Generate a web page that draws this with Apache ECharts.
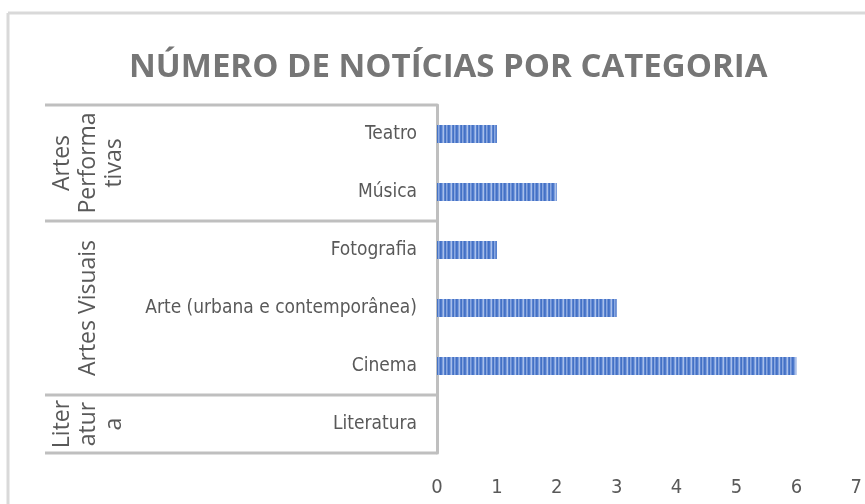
<!DOCTYPE html>
<html>
<head>
<meta charset="utf-8">
<script src="https://cdn.jsdelivr.net/npm/echarts@6/dist/echarts.min.js"></script>
<style>
  html, body { margin: 0; padding: 0; background: #fff; }
  #chart { width: 865px; height: 504px; }
</style>
</head>
<body>
<div id="chart"></div>
<script>
// dados
var categories = ['Teatro', 'Música', 'Fotografia', 'Arte (urbana e contemporânea)', 'Cinema', 'Literatura'];
var values = [1, 2, 1, 3, 6, 0];
var groupLabels = ['Artes\nPerforma\ntivas', 'Artes Visuais', 'Liter\natur\na'];
var groupSizes = [2, 3, 1];
var xTicks = [0, 1, 2, 3, 4, 5, 6, 7];

// padrão listrado das barras
function stripes() {
  var c = document.createElement('canvas');
  c.width = 8; c.height = 4;
  var ctx = c.getContext('2d');
  var cols = ['#4371c6', '#4f7acb', '#7e9fdd', '#a9c0ea', '#5a82d0', '#4472c4', '#8aa8e0', '#6b8fd6'];
  cols.forEach(function (col, i) {
    ctx.fillStyle = col;
    ctx.fillRect(i, 0, 1, 4);
  });
  return c;
}

var chart = echarts.init(document.getElementById('chart'));

var option = {
  animation: false,
  title: {
    text: 'NÚMERO DE NOTÍCIAS POR CATEGORIA',
    left: 124,
    top: 46,
    textStyle: {
      fontFamily: 'Open Sans',
      fontWeight: 'bold',
      fontSize: 33,
      color: '#767676'
    }
  },
  grid: {
    left: 437,
    right: 8,
    top: 105,
    bottom: 51,
    containLabel: false
  },
  xAxis: {
    type: 'value',
    min: xTicks[0],
    max: xTicks[xTicks.length - 1],
    interval: 1,
    axisLine: { show: false },
    axisTick: { show: false },
    splitLine: { show: false },
    axisLabel: {
      margin: 25,
      fontSize: 20,
      fontFamily: 'Liberation Sans Narrow, DejaVu Sans Condensed, sans-serif',
      color: '#595959'
    }
  },
  yAxis: {
    type: 'category',
    inverse: true,
    data: categories,
    axisLine: { show: true, lineStyle: { color: '#bfbfbf', width: 3 } },
    axisTick: { show: false },
    axisLabel: {
      margin: 20,
      fontSize: 19,
      fontFamily: 'Liberation Sans Narrow, DejaVu Sans Condensed, sans-serif',
      color: '#595959'
    }
  },
  series: [{
    type: 'bar',
    data: values,
    barWidth: 18,
    itemStyle: { color: { image: stripes(), repeat: 'repeat' } }
  }]
};

chart.setOption(option);

// linhas de grupo e rótulos rodados
var yA = chart.convertToPixel({ yAxisIndex: 0 }, categories[0]);
var yB = chart.convertToPixel({ yAxisIndex: 0 }, categories[1]);
var band = yB - yA;
var axisX = chart.convertToPixel({ xAxisIndex: 0 }, 0);

var elements = [
  { type: 'line', shape: { x1: 8, y1: 13, x2: 865, y2: 13 }, style: { stroke: '#d9d9d9', lineWidth: 3 } },
  { type: 'line', shape: { x1: 8, y1: 13, x2: 8, y2: 504 }, style: { stroke: '#d9d9d9', lineWidth: 3 } }
];

var start = 0;
var topY = yA - band / 2;
elements.push({ type: 'line', shape: { x1: 45, y1: topY, x2: axisX, y2: topY }, style: { stroke: '#bfbfbf', lineWidth: 3 } });
groupSizes.forEach(function (size, g) {
  var first = chart.convertToPixel({ yAxisIndex: 0 }, categories[start]);
  var last = chart.convertToPixel({ yAxisIndex: 0 }, categories[start + size - 1]);
  var bottomY = last + band / 2;
  elements.push({ type: 'line', shape: { x1: 45, y1: bottomY, x2: axisX, y2: bottomY }, style: { stroke: '#bfbfbf', lineWidth: 3 } });
  elements.push({
    type: 'text',
    x: 88,
    y: (first + last) / 2,
    rotation: Math.PI / 2,
    style: {
      text: groupLabels[g],
      fill: '#595959',
      fontSize: 23,
      fontFamily: 'Open Sans',
      align: 'center',
      verticalAlign: 'middle',
      lineHeight: 26
    }
  });
  start += size;
});

chart.setOption({ graphic: elements });
</script>
</body>
</html>
